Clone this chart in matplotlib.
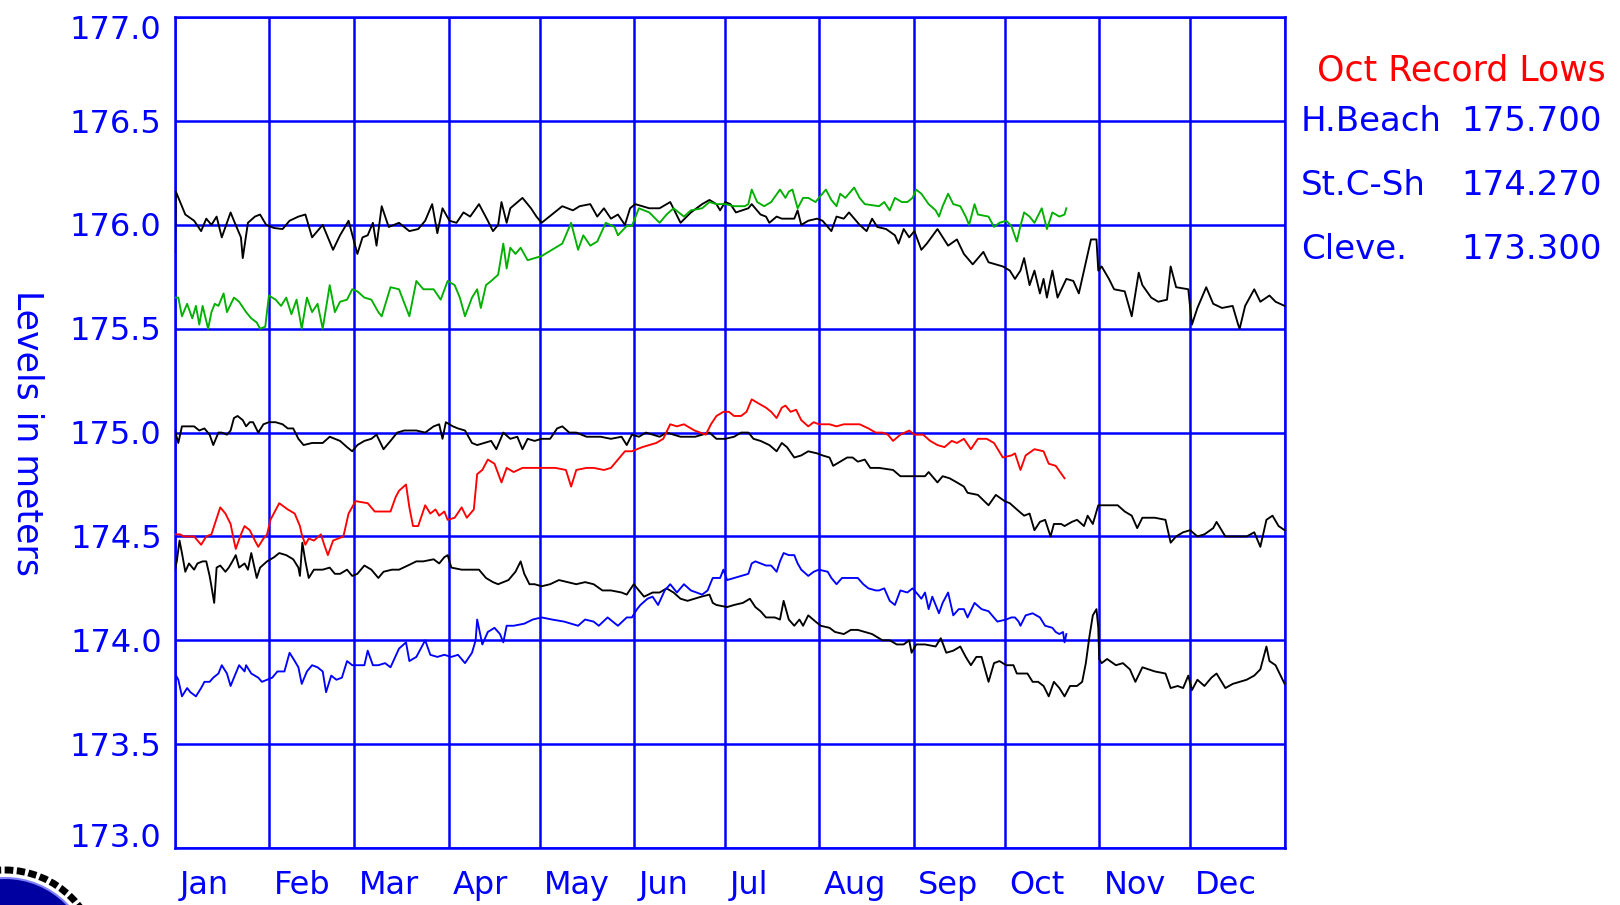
import matplotlib
matplotlib.use("Agg")
import matplotlib.pyplot as plt
import matplotlib.transforms as mtransforms
from matplotlib.patches import Circle

# Month layout (day of year)
month_names = ["Jan", "Feb", "Mar", "Apr", "May", "Jun",
               "Jul", "Aug", "Sep", "Oct", "Nov", "Dec"]
month_starts = [0, 31, 59, 90, 120, 151, 181, 212, 243, 273, 304, 334, 365]
y_ticks = [173.0, 173.5, 174.0, 174.5, 175.0, 175.5, 176.0, 176.5, 177.0]

# Upper black trace (whole year)
top_days = [0, 0.3, 3.4, 6.3, 8.6, 10.3, 12, 13.7, 15.4, 18.3, 19.4, 21.7, 22.3, 24, 26.3, 28, 30,
            32.6, 35.4, 37.7, 40.6, 42.9, 45.1, 48.6, 52, 54.3, 57.1, 58.9, 60, 61.7, 63.4, 65.1,
            66.3, 68, 70.3, 73.7, 77.1, 80, 82.3, 84.6, 86.3, 88, 90.3, 92.6, 94.9, 97.1, 100,
            102.9, 104.6, 106.3, 107.4, 109.1, 110.3, 114.3, 117.1, 118.9, 120.6, 124, 127.4,
            130.9, 133.1, 136.6, 138.9, 141.1, 143.4, 145.7, 148, 149.7, 151.4, 153.7, 156, 159.4,
            162.9, 166.3, 169.7, 173.4, 175.8, 178.1, 179.3, 181, 182.7, 184.5, 188.6, 189.7,
            192.6, 194.4, 195.5, 197.9, 199.6, 203.7, 204.8, 206, 208.3, 211.2, 213, 215.9, 217.6,
            220, 221.7, 225.2, 227.5, 229.3, 231, 233.9, 236.8, 238, 239.7, 241.5, 243.2, 245.5,
            247.3, 250.8, 254.3, 257.2, 259.5, 262.4, 265.9, 267.6, 272.3, 274.6, 276.3, 278.1,
            279.3, 281.1, 282.7, 284.5, 285.7, 286.8, 288.6, 290.3, 293.2, 295.5, 297.3, 299,
            300.2, 301.3, 303.1, 303.7, 304.8, 307.2, 308.9, 312.4, 314.7, 317, 318.2, 321.1,
            323.4, 326.3, 327.5, 329.3, 333.3, 334.5, 336.3, 339.2, 341.5, 344.4, 347.9, 349.7,
            350.2, 352, 355, 357, 360, 362, 365]
top_vals = [175.87, 176.16, 176.05, 176.02, 175.97, 176.03, 176.0, 176.04, 175.94, 176.06, 176.02,
            175.94, 175.84, 176.01, 176.04, 176.05, 176.0, 175.985, 175.98, 176.02, 176.04, 176.05,
            175.94, 176.0, 175.88, 175.95, 176.02, 175.92, 175.86, 175.94, 175.95, 176.01, 175.90,
            176.09, 175.99, 176.01, 175.97, 175.98, 176.02, 176.10, 175.96, 176.08, 176.02, 176.01,
            176.06, 176.04, 176.10, 176.02, 175.97, 176.0, 176.11, 176.01, 176.08, 176.13, 176.08,
            176.04, 176.01, 176.05, 176.09, 176.07, 176.09, 176.10, 176.04, 176.08, 176.03, 176.05,
            176.0, 176.08, 176.10, 176.09, 176.08, 176.08, 176.11, 176.01, 176.06, 176.10, 176.12,
            176.10, 176.07, 176.11, 176.10, 176.06, 176.08, 176.10, 176.05, 176.04, 176.01, 176.04,
            176.03, 176.03, 176.07, 176.0, 176.02, 176.03, 176.02, 175.97, 176.04, 176.03, 176.06,
            176.0, 175.97, 176.03, 175.99, 175.98, 175.95, 175.91, 175.98, 175.94, 175.97, 175.88,
            175.91, 175.98, 175.90, 175.93, 175.86, 175.81, 175.87, 175.82, 175.80, 175.78, 175.74,
            175.78, 175.84, 175.71, 175.78, 175.67, 175.74, 175.65, 175.78, 175.65, 175.74, 175.73,
            175.67, 175.78, 175.86, 175.93, 175.93, 175.78, 175.80, 175.74, 175.69, 175.68, 175.56,
            175.77, 175.71, 175.65, 175.63, 175.64, 175.80, 175.70, 175.69, 175.52, 175.60, 175.70,
            175.62, 175.60, 175.61, 175.52, 175.50, 175.61, 175.69, 175.63, 175.66, 175.63, 175.61]

# Green trace (to late October)
green_days = [0, 1.1, 2.3, 4, 5.7, 6.9, 8, 9.1, 10.9, 12, 13.1, 14.3, 16, 17.1, 19.4, 21.1, 23.4,
              25.1, 26.9, 28, 29.7, 30.9, 33.1, 34.9, 36.6, 38.3, 40, 41.7, 43.4, 45.1, 46.9,
              48.6, 50.9, 52.6, 54.3, 56.6, 58.3, 60, 62.3, 64.6, 66.9, 68, 70.9, 73.7, 77.1, 79.4,
              81.7, 85.1, 87.4, 89.7, 92, 93.7, 95.4, 97.7, 99.4, 100.6, 102.3, 104, 106.3, 108,
              109.1, 110.3, 112, 113.7, 116, 118.3, 120.6, 124, 127.4, 130.3, 132.6, 134.3, 136.6,
              138.9, 141.7, 144.6, 145.7, 148.6, 150.3, 152.6, 156, 159.4, 161.7, 164, 167.4,
              169.7, 173.4, 175.8, 178.1, 181, 183.9, 187.4, 188.6, 189.7, 191.5, 193.8, 196.1,
              199, 200.8, 201.9, 203.1, 204.8, 206.6, 208.3, 210.7, 211.8, 214.1, 215.9, 217.6,
              218.8, 220.5, 223.4, 225.2, 226.9, 231.6, 233.3, 235.1, 236.8, 239.1, 240.9, 242.6,
              243.8, 245.5, 247.9, 250.2, 251.3, 252.5, 254.3, 256, 258.3, 260.1, 261.2, 263,
              264.1, 267.6, 269.4, 271.2, 273.4, 275.1, 276.9, 278.1, 279.3, 281.1, 282.7, 285.1,
              286.8, 288.6, 290.9, 292.6, 293.2]
green_vals = [175.65, 175.65, 175.56, 175.62, 175.55, 175.61, 175.52, 175.61, 175.50, 175.58,
              175.62, 175.61, 175.67, 175.58, 175.65, 175.63, 175.58, 175.55, 175.53, 175.50,
              175.51, 175.66, 175.64, 175.61, 175.65, 175.57, 175.64, 175.50, 175.65, 175.58,
              175.62, 175.50, 175.71, 175.58, 175.63, 175.64, 175.69, 175.68, 175.65, 175.64,
              175.58, 175.56, 175.70, 175.69, 175.56, 175.73, 175.69, 175.69, 175.64, 175.73,
              175.71, 175.65, 175.56, 175.65, 175.69, 175.60, 175.71, 175.73, 175.76, 175.91,
              175.79, 175.89, 175.86, 175.89, 175.83, 175.84, 175.85, 175.88, 175.91, 176.01,
              175.88, 175.95, 175.90, 175.92, 176.01, 175.99, 175.95, 175.995, 175.995, 176.08,
              176.06, 176.01, 176.05, 176.08, 176.04, 176.07, 176.08, 176.11, 176.10, 176.10,
              176.09, 176.09, 176.10, 176.17, 176.11, 176.09, 176.11, 176.17, 176.13, 176.16,
              176.17, 176.08, 176.13, 176.13, 176.11, 176.13, 176.17, 176.12, 176.09, 176.15,
              176.13, 176.18, 176.13, 176.10, 176.09, 176.11, 176.07, 176.13, 176.11, 176.11,
              176.13, 176.17, 176.15, 176.10, 176.07, 176.04, 176.09, 176.15, 176.10, 176.09,
              176.04, 176.0, 176.10, 176.05, 176.04, 175.99, 176.01, 176.02, 175.995, 175.92,
              175.995, 176.06, 176.04, 176.01, 176.08, 175.98, 176.06, 176.04, 176.05, 176.08]

# Middle black trace (whole year)
mid_days = [0, 1.1, 2.3, 4, 6.3, 8, 9.7, 11.4, 12.6, 14.3, 15.4, 17.1, 18.3, 19.4, 20.6, 22.3,
            23.4, 24.6, 25.7, 27.4, 29.1, 30.9, 33.1, 35.4, 37.1, 38.9, 40.6, 42.3, 45.1, 48.6,
            50.9, 54.3, 56.6, 58.3, 60, 62.3, 64.6, 66.3, 68.6, 70.9, 73.1, 75.4, 79.4, 82.3,
            85.1, 86.9, 88, 89.1, 91.4, 93.1, 95.4, 97.7, 99.4, 101.7, 104, 105.7, 108, 110.3,
            112.6, 114.3, 116, 118.3, 120.6, 123.4, 125.7, 127.4, 129.7, 132, 135.4, 140, 143.4,
            146.9, 148.6, 150.3, 152.6, 154.9, 157.1, 159.4, 161.7, 166.3, 171.1, 175.8, 178.1,
            181, 183.9, 186.2, 188.6, 190.3, 192.6, 195.5, 197.9, 199.6, 201.3, 203.7, 206,
            208.3, 211.2, 213, 215.3, 216.5, 218.8, 221.1, 222.9, 224.6, 226.9, 228.7, 231.6,
            236.2, 238.6, 242, 246.7, 247.9, 250.8, 252.5, 254.8, 257.2, 259.5, 260.7, 264.1,
            267.6, 270, 272.9, 274.6, 276.9, 279.3, 281.1, 282.7, 284.5, 286.2, 288, 289.1,
            291.5, 292.6, 295, 296.7, 299, 300.2, 301.9, 303.7, 307.2, 310.1, 312.4, 314.7,
            316.5, 318.2, 322.3, 325.8, 327.5, 329.3, 331.6, 333.9, 336.3, 338.6, 341.5, 342.6,
            345.5, 349, 352.5, 355, 357, 359, 361, 363, 365]
mid_vals = [175.01, 174.95, 175.03, 175.03, 175.03, 175.01, 175.02, 174.99, 174.94, 175.0, 175.0,
            174.99, 175.01, 175.07, 175.08, 175.06, 175.03, 175.05, 175.05, 175.0, 175.04, 175.05,
            175.05, 175.04, 175.02, 175.02, 174.97, 174.94, 174.95, 174.95, 174.98, 174.96, 174.93,
            174.91, 174.94, 174.96, 174.97, 174.99, 174.92, 174.96, 175.0, 175.01, 175.01, 175.0,
            175.03, 175.04, 174.97, 175.05, 175.03, 175.02, 175.01, 174.95, 174.94, 174.95, 174.96,
            174.92, 175.0, 174.97, 174.98, 174.92, 174.97, 174.96, 174.97, 174.97, 175.02, 175.03,
            175.0, 175.0, 174.98, 174.98, 174.97, 174.98, 174.94, 174.99, 174.98, 175.0, 174.99,
            174.98, 175.0, 174.98, 174.98, 175.0, 174.97, 174.97, 174.98, 175.0, 175.0, 174.97,
            174.96, 174.94, 174.91, 174.95, 174.93, 174.88, 174.89, 174.91, 174.90, 174.89, 174.88,
            174.84, 174.86, 174.88, 174.88, 174.86, 174.87, 174.83, 174.83, 174.82, 174.79, 174.79,
            174.79, 174.81, 174.76, 174.79, 174.78, 174.76, 174.74, 174.71, 174.70, 174.65, 174.70,
            174.67, 174.66, 174.63, 174.60, 174.61, 174.53, 174.57, 174.58, 174.50, 174.56, 174.56,
            174.55, 174.57, 174.58, 174.55, 174.60, 174.56, 174.65, 174.65, 174.65, 174.62, 174.60,
            174.54, 174.59, 174.59, 174.58, 174.47, 174.50, 174.52, 174.53, 174.50, 174.51, 174.54,
            174.57, 174.50, 174.50, 174.50, 174.52, 174.45, 174.58, 174.60, 174.55, 174.53]

# Red trace (to late October)
red_days = [0, 1.7, 2.9, 4, 6.3, 8.6, 10.3, 12, 13.1, 14.9, 16.6, 18.3, 19.4, 20, 21.7, 22.9,
            24.6, 26.3, 27.4, 29.1, 30.3, 31.4, 34.3, 37.1, 39.4, 41.1, 41.7, 42.9, 44, 45.7, 48,
            49.1, 50.3, 52, 53.7, 55.4, 57.1, 59.4, 63.4, 65.7, 68, 70.9, 72.6, 73.7, 76, 77.1,
            78.3, 80, 82.3, 84, 85.7, 86.9, 88.6, 89.7, 92, 94.3, 96, 98.3, 99.4, 101.1, 102.9,
            105.1, 107.4, 109.1, 111.4, 114.3, 117.1, 120.6, 125.1, 128.6, 130.3, 132, 135.4,
            137.7, 141.1, 143.4, 145.7, 148, 150.3, 153.7, 156, 158.3, 160.6, 162.9, 165.1, 167.4,
            170.9, 174.6, 176.3, 178.1, 180.4, 182.2, 183.9, 186.2, 188, 189.7, 192, 194.4, 196.1,
            197.9, 199.6, 200.8, 202.5, 204.3, 206, 208.3, 210.1, 211.8, 215.3, 217.6, 220,
            222.3, 225.2, 228.1, 230.5, 232.7, 234.5, 236.2, 238.6, 241.5, 243.2, 246.1, 248.4,
            250.8, 253.1, 255.5, 257.2, 259.5, 261.8, 264.1, 267, 269.4, 272.3, 275.1, 276.3,
            278.1, 279.8, 282.7, 285.7, 287.4, 289.7, 292.6]
red_vals = [174.51, 174.51, 174.50, 174.50, 174.50, 174.46, 174.50, 174.51, 174.56, 174.64, 174.61,
            174.56, 174.48, 174.44, 174.51, 174.55, 174.53, 174.48, 174.45, 174.49, 174.51, 174.58,
            174.66, 174.63, 174.61, 174.55, 174.51, 174.46, 174.49, 174.48, 174.51, 174.46, 174.41,
            174.48, 174.49, 174.50, 174.61, 174.67, 174.66, 174.62, 174.62, 174.62, 174.69, 174.72,
            174.75, 174.64, 174.55, 174.55, 174.65, 174.61, 174.63, 174.60, 174.62, 174.58, 174.59,
            174.64, 174.59, 174.63, 174.80, 174.82, 174.87, 174.85, 174.76, 174.83, 174.81, 174.83,
            174.83, 174.83, 174.83, 174.82, 174.74, 174.82, 174.83, 174.83, 174.82, 174.83, 174.87,
            174.91, 174.91, 174.93, 174.94, 174.95, 174.97, 175.04, 175.03, 175.04, 175.01, 174.99,
            175.04, 175.08, 175.10, 175.10, 175.08, 175.08, 175.10, 175.16, 175.14, 175.12, 175.10,
            175.07, 175.12, 175.13, 175.10, 175.11, 175.06, 175.03, 175.05, 175.04, 175.04, 175.03,
            175.04, 175.04, 175.04, 175.02, 175.0, 175.0, 174.99, 174.96, 174.99, 175.01, 174.99,
            174.99, 174.96, 174.94, 174.93, 174.96, 174.95, 174.97, 174.92, 174.97, 174.97, 174.95,
            174.88, 174.89, 174.90, 174.82, 174.89, 174.92, 174.91, 174.85, 174.84, 174.78]

# Blue trace (to late October)
blue_days = [0, 1.1, 2.3, 4, 5.1, 6.9, 8.6, 9.7, 11.4, 12.6, 14.3, 15.4, 17.1, 18.3, 19.4, 21.1,
             22.9, 23.4, 25.1, 27.4, 28.6, 30.3, 32, 33.7, 36, 37.7, 39.4, 40.6, 41.7, 43.4, 45.1,
             46.9, 48.6, 49.7, 51.4, 53.1, 54.9, 56.6, 58.3, 60, 62.3, 63.4, 65.1, 66.9, 69.1,
             70.9, 73.7, 76, 77.1, 79.4, 82.3, 84, 86.3, 88.6, 90.9, 93.1, 95.4, 97.7, 98.9, 99.4,
             101.1, 102.9, 105.1, 106.9, 108, 109.1, 111.4, 114.9, 117.7, 120.6, 124, 128, 130.3,
             132.6, 134.9, 137.7, 139.4, 142.3, 144, 145.7, 148.6, 150.3, 152, 153.1, 155.4, 157.1,
             158.9, 161.1, 162.9, 165.1, 167.4, 169.7, 173.4, 175.2, 176.3, 176.9, 179.3, 180.4,
             181.6, 183.9, 186.2, 188.6, 189.7, 190.9, 194.4, 196.1, 197.9, 199, 200.2, 201.9,
             203.7, 204.8, 206, 208.3, 210.1, 211.8, 214.7, 215.9, 217.6, 219.4, 221.1, 223.4,
             224.6, 226.4, 228.1, 230.5, 231.6, 233.3, 235.1, 236.8, 238.6, 240.9, 242.6, 244.4,
             245.5, 246.7, 247.9, 249.1, 251.3, 252.5, 254.3, 256, 257.8, 259.5, 260.7, 263, 265.3,
             267.6, 270.5, 273.4, 275.1, 276.3, 277.5, 278.1, 279.8, 282.1, 284.5, 286.2, 288.6,
             289.7, 290.9, 292.1, 292.6, 293.2]
blue_vals = [173.84, 173.81, 173.73, 173.77, 173.75, 173.73, 173.77, 173.80, 173.80, 173.82, 173.84,
             173.88, 173.84, 173.78, 173.82, 173.88, 173.85, 173.88, 173.84, 173.82, 173.80, 173.81,
             173.82, 173.85, 173.85, 173.94, 173.90, 173.87, 173.79, 173.85, 173.88, 173.87, 173.85,
             173.75, 173.83, 173.81, 173.82, 173.90, 173.88, 173.88, 173.88, 173.95, 173.88, 173.88,
             173.89, 173.87, 173.96, 173.99, 173.90, 173.92, 174.0, 173.93, 173.92, 173.93, 173.92,
             173.93, 173.89, 173.94, 174.0, 174.10, 173.98, 174.04, 174.06, 174.03, 173.99, 174.07,
             174.07, 174.08, 174.10, 174.11, 174.10, 174.09, 174.08, 174.07, 174.10, 174.09, 174.07,
             174.11, 174.09, 174.07, 174.11, 174.11, 174.15, 174.17, 174.20, 174.21, 174.17, 174.24,
             174.27, 174.23, 174.27, 174.24, 174.22, 174.24, 174.28, 174.30, 174.30, 174.34, 174.29,
             174.30, 174.31, 174.32, 174.37, 174.38, 174.36, 174.36, 174.33, 174.38, 174.42, 174.41,
             174.41, 174.37, 174.34, 174.31, 174.33, 174.34, 174.33, 174.30, 174.27, 174.30, 174.30,
             174.30, 174.30, 174.27, 174.25, 174.24, 174.24, 174.25, 174.19, 174.17, 174.24, 174.23,
             174.25, 174.22, 174.20, 174.23, 174.15, 174.21, 174.13, 174.18, 174.23, 174.12, 174.15,
             174.15, 174.11, 174.18, 174.15, 174.14, 174.09, 174.10, 174.11, 174.11, 174.09, 174.07,
             174.12, 174.13, 174.11, 174.07, 174.06, 174.04, 174.03, 174.04, 173.99, 174.03]

# Lower black trace (whole year)
low_days = [0, 0.6, 1.5, 2.3, 3.4, 4.6, 6.3, 7.4, 9.1, 10.3, 11.4, 12, 12.9, 13.7, 14.9, 16.6,
            17.7, 18.9, 20, 21.1, 22.9, 24, 25.1, 26.9, 28, 30.3, 32.6, 34.3, 36.6, 38.9, 40.6,
            41.1, 41.9, 42.9, 44, 45.7, 48.6, 50.9, 52.6, 54.3, 56.6, 58.3, 60, 62.3, 64.6, 66.9,
            68.6, 71.4, 73.7, 76.6, 79.4, 81.7, 85.1, 86.9, 88.6, 89.7, 90.9, 94.3, 97.7, 100,
            102.3, 104.6, 106.3, 108, 109.7, 112, 113.7, 114.9, 116.6, 118.3, 120.6, 123.4, 126.3,
            129.1, 132, 134.9, 137.7, 140.6, 143.4, 146.9, 148.6, 150.9, 152.6, 154.3, 157.1,
            159.4, 161.7, 164, 166.3, 168.6, 173.1, 175.8, 176.9, 178.1, 181.6, 183.9, 186.8,
            189.1, 190.9, 192.6, 194.4, 197.3, 199, 200.2, 201.9, 203.7, 205.4, 206.6, 208.3,
            210.7, 212.4, 215.3, 217.1, 220, 222.3, 224.6, 226.9, 229.3, 232.7, 235.1, 237.4,
            239.7, 241.5, 242.3, 243.8, 246.7, 250.2, 251.9, 253.7, 256, 258.3, 260.1, 261.8,
            263.6, 265.3, 267.6, 269.4, 271.2, 273.4, 275.8, 276.9, 280.4, 282.1, 283.9, 285.7,
            287.4, 289.1, 290.9, 292.6, 294.4, 296.7, 298.4, 299.6, 300.8, 301.9, 303.1, 303.7,
            304, 304.8, 306.6, 309.5, 311.8, 314.1, 315.9, 318.2, 322.3, 325.8, 327.5, 329.8,
            331.6, 333.3, 334.5, 336.3, 338.6, 340.9, 342.6, 345.5, 347.9, 350.2, 352.5, 355, 357,
            359, 360, 362, 365]
low_vals = [174.34, 174.38, 174.48, 174.42, 174.33, 174.37, 174.34, 174.37, 174.38, 174.38, 174.31,
            174.26, 174.18, 174.35, 174.36, 174.33, 174.35, 174.38, 174.41, 174.35, 174.37, 174.34,
            174.42, 174.30, 174.35, 174.38, 174.40, 174.42, 174.41, 174.39, 174.35, 174.31, 174.47,
            174.38, 174.30, 174.34, 174.34, 174.35, 174.32, 174.32, 174.34, 174.31, 174.32, 174.36,
            174.34, 174.30, 174.33, 174.34, 174.34, 174.36, 174.38, 174.38, 174.39, 174.37, 174.40,
            174.41, 174.35, 174.34, 174.34, 174.34, 174.30, 174.28, 174.27, 174.28, 174.29, 174.33,
            174.38, 174.32, 174.27, 174.27, 174.26, 174.27, 174.29, 174.28, 174.27, 174.28, 174.27,
            174.24, 174.24, 174.23, 174.22, 174.27, 174.24, 174.21, 174.23, 174.23, 174.25, 174.23,
            174.20, 174.19, 174.21, 174.22, 174.18, 174.17, 174.16, 174.17, 174.18, 174.20, 174.16,
            174.14, 174.11, 174.11, 174.10, 174.19, 174.10, 174.07, 174.10, 174.07, 174.12, 174.09,
            174.07, 174.06, 174.04, 174.03, 174.05, 174.05, 174.04, 174.03, 174.0, 174.0, 173.98,
            173.98, 174.0, 173.94, 173.98, 173.98, 173.97, 174.01, 173.94, 173.95, 173.97, 173.92,
            173.88, 173.92, 173.92, 173.80, 173.89, 173.90, 173.88, 173.88, 173.84, 173.84, 173.80,
            173.80, 173.78, 173.73, 173.80, 173.77, 173.73, 173.78, 173.78, 173.80, 173.89, 174.02,
            174.12, 174.15, 174.06, 173.91, 173.89, 173.91, 173.88, 173.89, 173.86, 173.80, 173.87,
            173.85, 173.84, 173.77, 173.78, 173.77, 173.83, 173.76, 173.81, 173.78, 173.82, 173.84,
            173.77, 173.79, 173.80, 173.81, 173.83, 173.86, 173.97, 173.90, 173.88, 173.79]

record_title = "Oct Record Lows"
record_names = ["H.Beach", "St.C-Sh", "Cleve."]
record_vals = ["175.700", "174.270", "173.300"]

BLUE = "#0000ff"
plt.rcParams["font.family"] = ["DejaVu Sans"]

fig = plt.figure(figsize=(16.2, 9.05), dpi=100)
ax = fig.add_axes([0.108, 0.063, 0.685, 0.918])

for yv in y_ticks:
    ax.axhline(yv, color=BLUE, lw=1.8, zorder=1)
for d in month_starts:
    ax.axvline(d, color=BLUE, lw=1.8, zorder=1)

lw = 1.35
ax.plot(top_days, top_vals, color="black", lw=lw, zorder=3)
ax.plot(mid_days, mid_vals, color="black", lw=lw, zorder=3)
ax.plot(low_days, low_vals, color="black", lw=lw, zorder=3)
ax.plot(green_days, green_vals, color="#00b000", lw=lw, zorder=4)
ax.plot(red_days, red_vals, color="#ff0000", lw=lw, zorder=4)
ax.plot(blue_days, blue_vals, color=BLUE, lw=lw, zorder=4)

ax.set_xlim(0, 365)
ax.set_ylim(173.0, 177.0)
for s in ax.spines.values():
    s.set_color(BLUE)
    s.set_linewidth(1.8)
ax.set_xticks([])
ax.set_yticks([])

# y labels, end ones pulled inside the frame as in the original
ytr = ax.get_yaxis_transform()
for v in y_ticks:
    va, dy = "center", -3
    if v == y_ticks[-1]:
        va, dy = "top", 2
    elif v == y_ticks[0]:
        va, dy = "bottom", -6
    tr = ytr + mtransforms.ScaledTranslation(0, dy / 100, fig.dpi_scale_trans)
    ax.text(-0.012, v, f"{v:.1f}", transform=tr, color=BLUE, fontsize=23,
            ha="right", va=va)

# month names, left aligned just after each month line
xtr = ax.get_xaxis_transform()
for name, d in zip(month_names, month_starts[:-1]):
    ax.text(d + 1.5, -0.045, name, transform=xtr, color=BLUE, fontsize=23,
            ha="left", va="center")

fig.text(0.017, 0.521, "Levels in meters", rotation=270, color=BLUE, fontsize=25,
         ha="center", va="center")

# Record lows box at right
fig.text(0.813, 0.922, record_title, color="#ff0000", fontsize=25, ha="left", va="center")
rows_y = [0.866, 0.795, 0.724]
for name, val, yy in zip(record_names, record_vals, rows_y):
    fig.text(0.803, yy, name, color=BLUE, fontsize=24.5, ha="left", va="center")
    fig.text(0.902, yy, val, color=BLUE, fontsize=24.5, ha="left", va="center")

# partial logo at bottom-left corner
lax = fig.add_axes([0, 0, 1, 1], zorder=-1)
lax.set_xlim(0, 1620)
lax.set_ylim(905, 0)
lax.axis("off")
lax.add_patch(Circle((5, 964), 94, facecolor="none", edgecolor="black", lw=5,
                     linestyle=(0, (1.2, 0.5))))
lax.add_patch(Circle((5, 964), 86, facecolor="#0000a0", edgecolor="#8080ff", lw=1.5))

fig.savefig("out.png", dpi=100)
